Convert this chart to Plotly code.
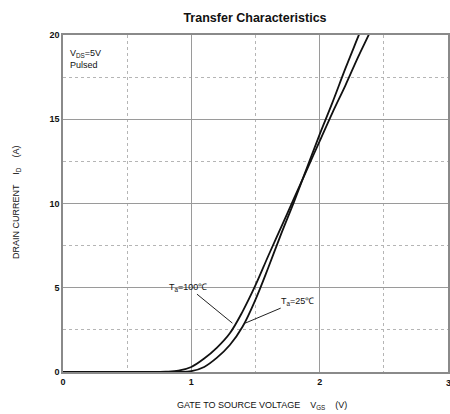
import plotly.graph_objects as go

# Data
vgs_25 = [0.0, 0.8, 0.9, 1.0, 1.1, 1.2, 1.3, 1.4, 1.5, 1.6, 1.7, 1.8, 1.9, 2.0, 2.1, 2.2, 2.3, 2.4]
id_25 = [0.0, 0.0, 0.01, 0.05, 0.3, 0.85, 1.6, 2.7, 4.3, 6.2, 8.2, 10.1, 12.1, 14.1, 16.0, 18.0, 19.9, 21.8]

vgs_100 = [0.0, 0.7, 0.8, 0.9, 1.0, 1.1, 1.2, 1.3, 1.4, 1.5, 1.6, 1.7, 1.8, 1.9, 2.0, 2.1, 2.2, 2.3, 2.4, 2.5]
id_100 = [0.0, 0.0, 0.02, 0.08, 0.3, 0.8, 1.45, 2.3, 3.6, 5.15, 6.9, 8.6, 10.3, 12.0, 13.7, 15.4, 17.0, 18.7, 20.3, 22.0]

x_ticks = [0, 1, 2, 3]
y_ticks = [0, 5, 10, 15, 20]

FONT = "Liberation Sans, Arial, sans-serif"

W, H = 450, 414
L, R, T, B = 63, 2, 35, 42
PW, PH = W - L - R, H - T - B


def px(xs):
    return (xs - L) / PW


def py(ys):
    return 1 - (ys - T) / PH


fig = go.Figure()
fig.add_trace(go.Scatter(x=vgs_100, y=id_100, mode="lines", line=dict(color="#111", width=1.8, shape="spline"),
                         name="Ta=100℃", showlegend=False))
fig.add_trace(go.Scatter(x=vgs_25, y=id_25, mode="lines", line=dict(color="#111", width=1.8, shape="spline"),
                         name="Ta=25℃", showlegend=False))

axis_common = dict(
    showline=True, mirror=True, linecolor="#8a8a8a", linewidth=1.5,
    showgrid=True, gridcolor="#9a9a9a", gridwidth=1, automargin=False,
    zeroline=False, ticks="", tickfont=dict(family=FONT, size=9, color="#111", weight="bold"),
)

fig.update_xaxes(
    range=[0, 3], tickvals=x_ticks, ticktext=[str(v) for v in x_ticks],
    minor=dict(dtick=0.5, showgrid=True, gridcolor="#b5b5b5", griddash="dot", gridwidth=1),
    **axis_common,
)
fig.update_yaxes(
    range=[0, 20], tickvals=y_ticks, ticktext=[str(v) for v in y_ticks],
    minor=dict(dtick=2.5, showgrid=True, gridcolor="#b5b5b5", griddash="dot", gridwidth=1),
    **axis_common,
)

# right-most x tick label (plotly drops it at the page edge; the reference shows it clipped)
fig.add_annotation(x=1.0, y=py(383), xref="paper", yref="paper", showarrow=False,
                   xanchor="center", yanchor="middle", text=str(x_ticks[-1]),
                   font=dict(family=FONT, size=9, color="#111", weight="bold"))

fig.add_annotation(x=px(262), y=py(405), xref="paper", yref="paper", showarrow=False,
                   xanchor="center", yanchor="middle",
                   text="GATE TO SOURCE VOLTAGE    V<sub>GS</sub>    (V)",
                   font=dict(family=FONT, size=9, color="#111"))
fig.add_annotation(x=px(16), y=py(203), xref="paper", yref="paper", showarrow=False,
                   xanchor="center", yanchor="middle", textangle=-90,
                   text="DRAIN CURRENT    I<sub>D</sub>    (A)",
                   font=dict(family=FONT, size=9, color="#111"))

fig.add_annotation(x=px(68), y=py(46), xref="paper", yref="paper", xanchor="left", yanchor="top", align="left",
                   text="V<sub>DS</sub>=5V<br>Pulsed", showarrow=False,
                   font=dict(family=FONT, size=9, color="#111"))

fig.add_annotation(x=1.32, y=2.9, xref="x", yref="y", text="T<sub>a</sub>=100℃",
                   showarrow=True, arrowhead=0, arrowwidth=1, arrowcolor="#222", ax=-44, ay=-36,
                   font=dict(family=FONT, size=9, color="#111"))
fig.add_annotation(x=1.42, y=2.9, xref="x", yref="y", text="T<sub>a</sub>=25℃",
                   showarrow=True, arrowhead=0, arrowwidth=1, arrowcolor="#222", ax=52, ay=-22,
                   font=dict(family=FONT, size=9, color="#111"))

fig.update_layout(
    width=W, height=H,
    margin=dict(l=L, r=R, t=T, b=B),
    paper_bgcolor="white", plot_bgcolor="white",
    title=dict(text="<b>Transfer Characteristics</b>", x=255 / W, xanchor="center",
               y=1 - 18 / H, yanchor="middle", font=dict(family=FONT, size=12.5, color="#111"),
               automargin=False),
)

fig.write_html("out.html", config={"displayModeBar": False},
               post_script="document.body.style.margin='0';document.body.style.overflow='hidden';")
